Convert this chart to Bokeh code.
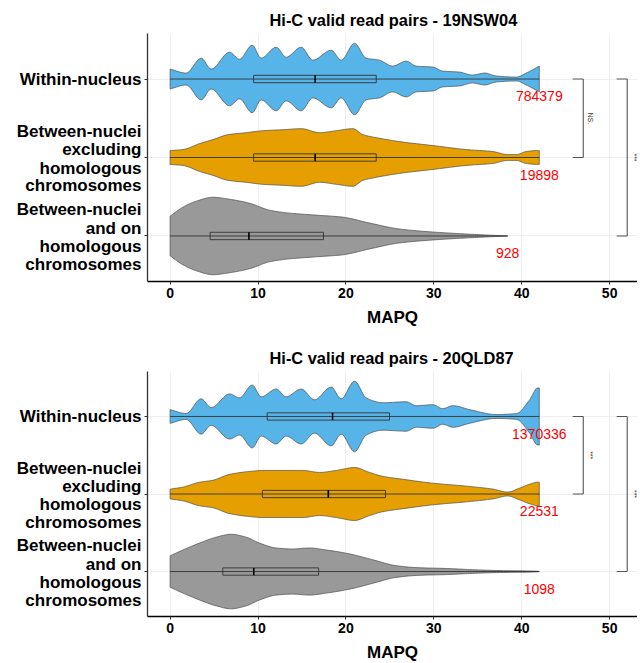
import numpy as np
from bokeh.plotting import figure
from bokeh.models import Range1d, FixedTicker, LinearAxis
from bokeh.layouts import column
from bokeh.embed import file_html
from bokeh.resources import INLINE
from bokeh.core.properties import value

FONT = "Liberation Sans"

categories = [
    ["Within-nucleus"],
    ["Between-nuclei", "excluding", "homologous", "chromosomes"],
    ["Between-nuclei", "and on", "homologous", "chromosomes"],
]
colors = ["#56B4E9", "#E69F00", "#999999"]
x_ticks = [0, 10, 20, 30, 40, 50]

# ---------------- Panel 1 : 19NSW04 ----------------
title1 = "Hi-C valid read pairs - 19NSW04"
p1_blue_x = [0, 1.83, 3.53, 4.67, 6.76, 7.9, 9.34, 10.36, 12.07, 13.2, 14.91, 16.24, 18.32,
             19.46, 20.98, 22.3, 23.8, 25.3, 26.86, 28.0, 29.9, 31.0, 32.9, 34.4, 35.8, 37.1,
             39.4, 40.5, 41.8, 42]
p1_blue_d = [10, 6, 21, 10, 27, 20, 34, 21, 32, 22, 32, 19, 29, 19, 36, 21, 19, 13, 18, 13,
             12, 8, 7, 4, 6, 3, 2, 6, 12, 13]
p1_orange_x = [0, 1.46, 3.35, 4.87, 6.58, 8.66, 10.56, 12.84, 14.91, 17.0, 18.9, 20.8, 21.93,
               23.45, 26.1, 29.9, 33.7, 36.7, 38.4, 39.4, 40.5, 41.8, 42]
p1_orange_d = [7, 8, 14, 18, 23, 25, 27, 28, 29, 25, 27, 29, 23, 20, 16, 12, 8, 6, 3, 3, 6, 7, 7]
p1_gray_x = [0, 1.46, 2.97, 4.87, 6.76, 9.03, 11.3, 13.6, 16.6, 19.6, 22.7, 26.1, 29.9, 33.7,
             36.0, 38.4]
p1_gray_d = [20, 29, 35, 39, 37, 33, 26, 23, 21, 19, 13, 7, 4, 2, 1, 0]
p1_q1 = [9.5, 9.5, 4.56]
p1_med = [16.5, 16.5, 8.97]
p1_q3 = [23.45, 23.45, 17.45]
p1_min = [0, 0, 0]
p1_max = [42, 42, 38.4]
p1_counts = [784379, 19898, 928]
p1_signif = [("NS.", 0, 1), ("***", 0, 2)]

# ---------------- Panel 2 : 20QLD87 ----------------
title2 = "Hi-C valid read pairs - 20QLD87"
p2_blue_x = [0, 1.83, 3.53, 4.67, 6.76, 7.9, 9.34, 10.36, 12.07, 13.2, 14.91, 16.43, 18.32,
             19.46, 20.98, 22.3, 24.2, 26.86, 28.0, 29.9, 31.0, 32.2, 34.06, 37.1, 39.4, 40.9,
             41.8, 42]
p2_blue_d = [7, 3, 18, 9, 23, 19, 32, 20, 28, 20, 28, 17, 30, 18, 36, 19, 14, 15, 11, 12, 8,
             11, 7, 2, 3, 17, 29, 29]
p2_orange_x = [0, 1.46, 3.35, 4.87, 6.76, 9.03, 10.56, 12.84, 15.1, 17.0, 18.9, 20.98, 22.68,
               24.2, 26.5, 29.9, 33.7, 36.7, 38.4, 39.76, 40.9, 41.8, 42]
p2_orange_d = [5, 7, 12, 14, 20, 23, 24, 24, 24, 22, 24, 27, 22, 18, 15, 11, 8, 5, 2, 6, 10, 12, 12]
p2_gray_x = [0, 1.46, 3.35, 5.24, 6.95, 8.65, 10.17, 12.07, 13.96, 15.86, 17.76, 20.4, 23.06,
             25.7, 28.0, 31.8, 34.06, 37.5, 41.8, 42]
p2_gray_d = [16, 22, 29, 35, 38, 35, 29, 24, 23, 24, 22, 18, 12, 6, 4, 3, 2, 1, 0.3, 0]
p2_q1 = [11.05, 10.5, 6.0]
p2_med = [18.48, 18.0, 9.52]
p2_q3 = [24.96, 24.5, 16.9]
p2_min = [0, 0, 0]
p2_max = [42, 42, 42]
p2_counts = [1370336, 22531, 1098]
p2_signif = [("***", 0, 1), ("***", 0, 2)]

DENS_SCALE = 1.0 / 79.0   # density units -> category units
BOX_HALF = 0.047
Y_LO, Y_HI = 0.42, 3.58
LINE_PX = [-26.0, -7.5, 10.7, 28.5]   # vertical pixel offsets of the 4 label lines


def smooth_outline(xs, ys, sub=10):
    """Monotone cubic (Fritsch-Carlson) path through the read points, for drawing."""
    x = np.asarray(xs, dtype=float)
    y = np.asarray(ys, dtype=float)
    n = len(x)
    h = np.diff(x)
    d = np.diff(y) / h
    m = np.zeros(n)
    m[0], m[-1] = d[0], d[-1]
    for k in range(1, n - 1):
        if d[k - 1] * d[k] <= 0:
            m[k] = 0.0
        else:
            w1 = 2 * h[k] + h[k - 1]
            w2 = h[k] + 2 * h[k - 1]
            m[k] = (w1 + w2) / (w1 / d[k - 1] + w2 / d[k])
    ox, oy = [], []
    for k in range(n - 1):
        t = np.linspace(0, 1, sub, endpoint=False)
        h00 = 2 * t**3 - 3 * t**2 + 1
        h10 = t**3 - 2 * t**2 + t
        h01 = -2 * t**3 + 3 * t**2
        h11 = t**3 - t**2
        ox.extend(x[k] + t * h[k])
        oy.extend(h00 * y[k] + h10 * h[k] * m[k] + h01 * y[k + 1] + h11 * h[k] * m[k + 1])
    ox.append(x[-1])
    oy.append(y[-1])
    return np.array(ox), np.clip(np.array(oy), 0, None)


def make_panel(title, profiles, q1, med, q3, vmin, vmax, counts, signif,
               frame_h, top_border, bottom_border):
    p = figure(frame_width=490, frame_height=frame_h,
               x_range=Range1d(-2.57, 53.17), y_range=Range1d(Y_LO, Y_HI),
               output_backend="svg", toolbar_location=None,
               min_border_left=147, min_border_right=0,
               min_border_top=top_border, min_border_bottom=bottom_border)
    p.outline_line_color = None
    p.background_fill_color = "white"

    p.title.text = title
    p.title.align = "left"
    p.title.offset = 122
    p.title.text_font = FONT
    p.title.text_font_size = "16.4px"
    p.title.text_font_style = "bold"
    p.title.text_color = "black"

    ypos = [3, 2, 1]
    p.xaxis.ticker = FixedTicker(ticks=x_ticks)
    p.xaxis.axis_label = "MAPQ"
    p.xaxis.axis_label_text_font = FONT
    p.xaxis.axis_label_text_font_size = "17px"
    p.xaxis.axis_label_text_font_style = "bold"
    p.xaxis.axis_label_text_color = "black"
    p.xaxis.axis_label_standoff = 7
    p.xaxis.major_label_text_font = FONT
    p.xaxis.major_label_text_font_size = "14px"
    p.xaxis.major_label_text_font_style = "bold"
    p.xaxis.major_label_text_color = "black"
    p.xaxis.major_label_standoff = 3
    p.xaxis.axis_line_color = "black"
    p.xaxis.axis_line_width = 1.3
    p.xaxis.major_tick_line_color = "#333333"
    p.xaxis.major_tick_out = 3
    p.xaxis.major_tick_in = 0
    p.xaxis.minor_tick_line_color = None

    # tick-only axis next to the frame
    p.yaxis.ticker = FixedTicker(ticks=ypos)
    p.yaxis.major_label_overrides = {y: "" for y in ypos}
    p.yaxis.major_label_text_font_size = "1px"
    p.yaxis.major_label_standoff = 0
    p.yaxis.axis_line_color = "#333333"
    p.yaxis.axis_line_width = 1.3
    p.yaxis.major_tick_line_color = "#333333"
    p.yaxis.major_tick_out = 3
    p.yaxis.major_tick_in = 0
    p.yaxis.minor_tick_line_color = None

    # label axis: one tick per text line, right aligned
    upp = (Y_HI - Y_LO) / frame_h
    lab_ticks, lab_over = [], {}
    for y0, lines in zip(ypos, categories):
        offs = [0.0] if len(lines) == 1 else LINE_PX
        for ln, off in zip(lines, offs):
            t = round(y0 - off * upp, 4)
            lab_ticks.append(t)
            lab_over[t] = ln
    lab_axis = LinearAxis(ticker=FixedTicker(ticks=lab_ticks),
                          major_label_overrides=lab_over,
                          axis_line_color=None, major_tick_line_color=None,
                          major_tick_out=0, major_tick_in=0,
                          minor_tick_line_color=None, minor_tick_out=0,
                          major_label_standoff=3,
                          major_label_text_font=FONT, major_label_text_font_size="17px",
                          major_label_text_font_style="bold",
                          major_label_text_color="black")
    p.add_layout(lab_axis, "left")

    p.xgrid.ticker = FixedTicker(ticks=x_ticks)
    p.ygrid.ticker = FixedTicker(ticks=ypos)
    p.grid.grid_line_color = "#EBEBEB"
    p.grid.grid_line_width = 0.8

    for i, (xs, ds) in enumerate(profiles):
        y0 = ypos[i]
        sx, sd = smooth_outline(xs, ds)
        hw = sd * DENS_SCALE
        px = list(sx) + list(sx[::-1])
        py = list(y0 + hw) + list((y0 - hw)[::-1])
        p.patch(px, py, fill_color=colors[i], line_color="#4D4D4D", line_width=0.7)

    yb = np.array(ypos, dtype=float)
    p.segment(x0=vmin, x1=vmax, y0=yb, y1=yb, line_color="#333333", line_width=0.9)
    p.quad(left=q1, right=q3, bottom=yb - BOX_HALF, top=yb + BOX_HALF,
           fill_alpha=0, line_color="#333333", line_width=0.9)
    p.segment(x0=med, x1=med, y0=yb - BOX_HALF, y1=yb + BOX_HALF,
              line_color="black", line_width=1.6)

    p.text(x=vmax, y=list(yb - 0.22), text=[str(c) for c in counts],
           text_color="#FF0000", text_font=value(FONT), text_font_size="14px",
           text_align="center", text_baseline="middle")

    # significance brackets
    bx = [47.0, 52.0]
    for k, (lab, a, b) in enumerate(signif):
        xb = bx[k]
        ya, ybb = ypos[a], ypos[b]
        p.segment(x0=[xb - 1.2, xb, xb - 1.2], x1=[xb, xb, xb],
                  y0=[ya, ya, ybb], y1=[ya, ybb, ybb],
                  line_color="#555555", line_width=1.1)
        p.text(x=[xb + 0.85], y=[(ya + ybb) / 2], text=[lab], angle=-np.pi / 2,
               text_color="#333333", text_font=value(FONT), text_font_size="7px",
               text_align="center", text_baseline="middle")
    return p


p1 = make_panel(title1,
                [(p1_blue_x, p1_blue_d), (p1_orange_x, p1_orange_d), (p1_gray_x, p1_gray_d)],
                p1_q1, p1_med, p1_q3, p1_min, p1_max, p1_counts, p1_signif,
                248, 33, 56)
p2 = make_panel(title2,
                [(p2_blue_x, p2_blue_d), (p2_orange_x, p2_orange_d), (p2_gray_x, p2_gray_d)],
                p2_q1, p2_med, p2_q3, p2_min, p2_max, p2_counts, p2_signif,
                245, 34, 40)

layout = column(p1, p2, spacing=0)
open("out.html", "w").write(file_html(layout, INLINE))
